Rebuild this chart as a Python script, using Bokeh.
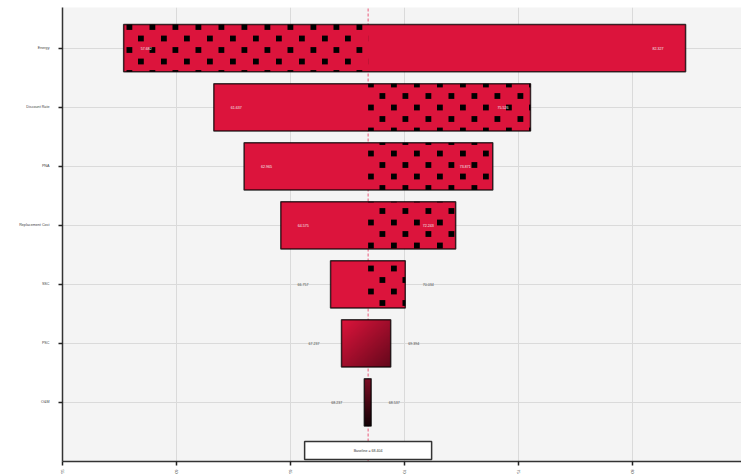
import base64
import numpy as np
from bokeh.plotting import figure
from bokeh.models import ColumnDataSource, ImageURLTexture, Range1d
from bokeh.core.properties import value
from bokeh.embed import file_html
from bokeh.resources import INLINE

# ---------------- data ----------------
factors = ["Energy", "Discount Rate", "PNA", "Replacement Cost", "SSC", "PSC", "O&M"]
low_values = [57.682, 61.637, 62.965, 64.575, 66.757, 67.237, 68.237]
high_values = [82.327, 75.526, 73.871, 72.243, 70.034, 69.394, 68.537]
baseline_value = 68.404
x_tick_values = [55, 60, 65, 70, 75, 80]

# ---------------- styles ----------------
hatch_sides = ["low", "high", "high", "high", "high", "none", "none"]
fill_kinds = ["solid", "solid", "solid", "solid", "solid", "diagonal", "vertical"]
CRIMSON = "#dc143c"
FONT = "Liberation Sans"
n = len(factors)
ypos = [n - i for i in range(n)]
bar_h = 0.8
inside_min_width = 5.0

p = figure(width=741, height=476, x_range=Range1d(55, 84.78), y_range=Range1d(0, 7.69),
           output_backend="svg", toolbar_location=None,
           min_border_left=62, min_border_right=0, min_border_top=7, min_border_bottom=15,
           background_fill_color="#f4f4f4", border_fill_color="white", outline_line_color=None)

# axes
p.xaxis.ticker = x_tick_values
p.xaxis.major_label_orientation = "vertical"
p.yaxis.ticker = ypos
p.yaxis.major_label_overrides = {y: f for y, f in zip(ypos, factors)}
for ax in (p.xaxis[0], p.yaxis[0]):
    ax.axis_line_color = "#333333"
    ax.axis_line_width = 1.5
    ax.major_tick_line_color = "#222222"
    ax.major_tick_line_width = 1.5
    ax.major_tick_out = 4
    ax.major_tick_in = 0
    ax.minor_tick_line_color = None
    ax.major_label_text_font = FONT
    ax.major_label_text_font_size = "3.7px"
    ax.major_label_text_color = "#444444"
p.xaxis.major_label_standoff = 4
p.yaxis.major_label_standoff = 9
p.xgrid.grid_line_color = "#dadada"
p.ygrid.grid_line_color = "#dadada"
p.xgrid.grid_line_width = 1
p.ygrid.grid_line_width = 1

# baseline dashed line (drawn first, under the bars)
p.segment(x0=[baseline_value], x1=[baseline_value], y0=[p.y_range.start], y1=[p.y_range.end],
          line_color="#e8355c", line_alpha=0.8, line_width=1, line_dash="3 2")

# solid bars
solid_idx = [i for i in range(n) if fill_kinds[i] == "solid"]
solid_src = ColumnDataSource(dict(
    left=[low_values[i] for i in solid_idx], right=[high_values[i] for i in solid_idx],
    bottom=[ypos[i] - bar_h / 2 for i in solid_idx], top=[ypos[i] + bar_h / 2 for i in solid_idx]))
p.quad(left="left", right="right", bottom="bottom", top="top", source=solid_src,
       fill_color=CRIMSON, line_color=None)

# gradient bars
def gradient(kind, nx=80, ny=80):
    u = np.linspace(0, 1, nx)[None, :]
    v = np.linspace(0, 1, ny)[:, None]  # row 0 = bottom
    if kind == "diagonal":
        t = (u + (1 - v)) / 2
        c0, c1 = (222, 20, 60), (100, 8, 28)
    else:
        t = (1 - v) * np.ones_like(u)
        c0, c1 = (125, 14, 38), (20, 2, 6)
    img = np.empty((ny, nx), dtype=np.uint32)
    view = img.view(dtype=np.uint8).reshape((ny, nx, 4))
    for k in range(3):
        view[:, :, k] = np.clip(c0[k] + (c1[k] - c0[k]) * t, 0, 255).astype(np.uint8)
    view[:, :, 3] = 255
    return img

for i in range(n):
    if fill_kinds[i] in ("diagonal", "vertical"):
        p.image_rgba(image=[gradient(fill_kinds[i])], x=[low_values[i]], y=[ypos[i] - bar_h / 2],
                     dw=[high_values[i] - low_values[i]], dh=[bar_h])

# hatched halves (staggered black squares)
tile = ('<svg xmlns="http://www.w3.org/2000/svg" width="23" height="23">'
        '<rect x="11.5" y="1.1" width="5.8" height="5.8" fill="black"/>'
        '<rect x="0" y="12.6" width="5.8" height="5.8" fill="black"/>'
        '</svg>')
texture = ImageURLTexture(url="data:image/svg+xml;base64," + base64.b64encode(tile.encode()).decode())
h_left, h_right, h_bottom, h_top = [], [], [], []
for i in range(n):
    if hatch_sides[i] == "low":
        h_left.append(low_values[i]); h_right.append(baseline_value)
    elif hatch_sides[i] == "high":
        h_left.append(baseline_value); h_right.append(high_values[i])
    else:
        continue
    h_bottom.append(ypos[i] - bar_h / 2); h_top.append(ypos[i] + bar_h / 2)
p.quad(left=h_left, right=h_right, bottom=h_bottom, top=h_top, fill_alpha=0, fill_color=None,
       line_color=None, hatch_pattern=dict(value="squares"), hatch_extra={"squares": texture})

# outlines
p.quad(left=low_values, right=high_values, bottom=[y - bar_h / 2 for y in ypos],
       top=[y + bar_h / 2 for y in ypos], fill_color=None, line_color="black",
       line_alpha=0.75, line_width=1.5)

# value labels
lx, ly, lt, loff, lcol = [], [], [], [], []
for i in range(n):
    inside = (high_values[i] - low_values[i]) > inside_min_width
    col = "#f2f2f2" if inside else "#444444"
    lx += [low_values[i], high_values[i]]
    ly += [ypos[i], ypos[i]]
    lt += [f"{low_values[i]:.3f}", f"{high_values[i]:.3f}"]
    loff += [22.5, -27.5] if inside else [-27.5, 23]
    lcol += [col, col]
lab_src = ColumnDataSource(dict(x=lx, y=ly, text=lt, off=loff, col=lcol))
p.text(x="x", y="y", text="text", x_offset="off", text_color="col", source=lab_src,
       text_align="center", text_baseline="middle", text_font=value(FONT),
       text_font_size="3.6px")

# baseline box
p.rect(x=[baseline_value], y=[0.186], width=127, height=18, width_units="screen",
       height_units="screen", fill_color="white", line_color="#333333", line_width=1.5)
p.text(x=[baseline_value], y=[0.186], text=[f"Baseline = {baseline_value:.3f}"],
       text_align="center", text_baseline="middle", text_font=value(FONT),
       text_font_size="3.6px", text_color="#333333")

open("out.html", "w").write(file_html(p, INLINE))
